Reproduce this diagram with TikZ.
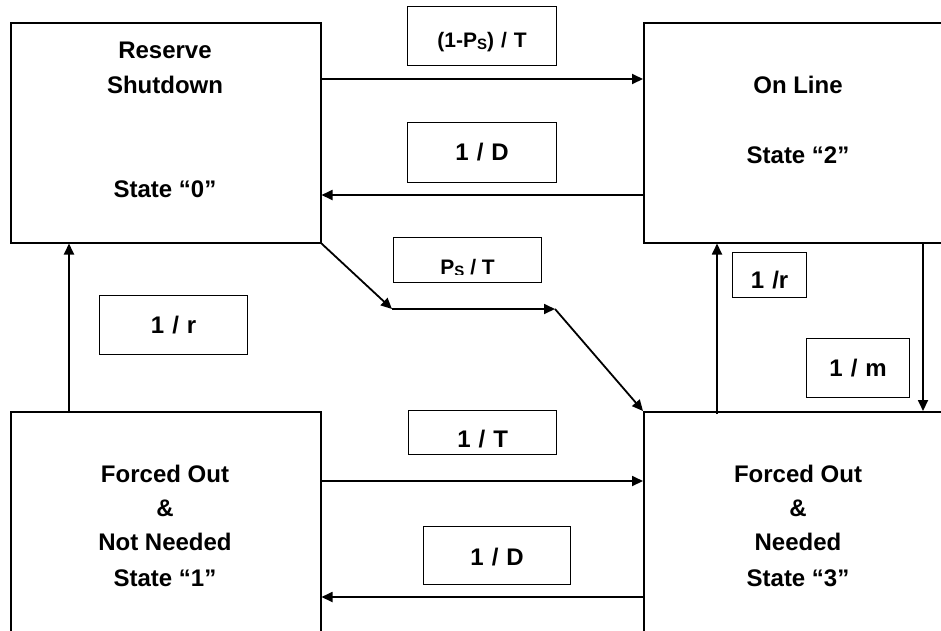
\documentclass[tikz,border=0pt]{standalone}
\usepackage{fontspec}
\setmainfont{Liberation Sans}
\usetikzlibrary{arrows.meta}
\newcommand\subS{\raisebox{-2pt}{\fontsize{15}{15}\selectfont S}}
\begin{document}
\begin{tikzpicture}[x=1pt,y=-1pt,
  statebox/.style={draw,line width=1.5pt,rectangle,minimum width=310pt,minimum height=220pt,inner sep=0pt,anchor=north west},
  stxt/.style={anchor=base,inner sep=0pt,font=\fontsize{24}{29}\selectfont\bfseries},
  lblbox/.style={draw,line width=1.3pt,rectangle,inner xsep=0pt,inner ysep=0pt,align=center,anchor=north west,font=\fontsize{24}{29}\selectfont\bfseries},
  smallfont/.style={font=\fontsize{21}{25}\selectfont\bfseries},
  conn/.style={line width=1.8pt,-{Triangle[length=11pt,width=10pt]}},
]
\useasboundingbox (0,0) rectangle (941,630);
\clip (0,0) rectangle (941,630);

% state boxes
\node[statebox] (b0) at (10,22) {};
\node[statebox] (b2) at (643,22) {};
\node[statebox] (b1) at (10,411) {};
\node[statebox] (b3) at (643,411) {};

% state texts
\node[stxt] (t0a) at (165,58) {Reserve};
\node[stxt] (t0b) at (165,93) {Shutdown};
\node[stxt] (t0c) at (165,197) {State “0”};
\node[stxt] (t2a) at (798,93) {On Line};
\node[stxt] (t2b) at (798,163) {State “2”};
\node[stxt] (t1a) at (165,482) {Forced Out};
\node[stxt] (t1b) at (165,516) {\&};
\node[stxt] (t1c) at (165,550) {Not Needed};
\node[stxt] (t1d) at (165,586) {State “1”};
\node[stxt] (t3a) at (798,482) {Forced Out};
\node[stxt] (t3b) at (798,516) {\&};
\node[stxt] (t3c) at (798,550) {Needed};
\node[stxt] (t3d) at (798,586) {State “3”};

% connectors
\coordinate (k1) at (392,309);
\coordinate (k2) at (555,309);
\draw[conn] ([yshift=-57pt]b0.north east) -- ([yshift=-57pt]b2.north west);
\draw[conn] ([yshift=-173pt]b2.north west) -- ([yshift=-173pt]b0.north east);
\draw[conn] ([xshift=59pt,yshift=-2pt]b1.north west) -- ([xshift=59pt]b0.south west);
\draw[conn] ([xshift=74pt,yshift=-3pt]b3.north west) -- ([xshift=74pt]b2.south west);
\draw[conn] ([xshift=280pt]b2.south west) -- ([xshift=280pt]b3.north west);
\draw[conn] ([yshift=-70pt]b1.north east) -- ([yshift=-70pt]b3.north west);
\draw[conn] ([yshift=-186pt]b3.north west) -- ([yshift=-186pt]b1.north east);
\draw[conn] (b0.south east) -- (k1);
\draw[conn] (k1) -- (k2);
\draw[conn] (k2) -- (b3.north west);

% labels
\node[lblbox,smallfont,text width=149pt,text height=41pt,text depth=18pt] (lA) at (407,6) {(1-P\subS) / T};
\node[lblbox,text width=149pt,text height=38pt,text depth=22pt] (lB) at (407,122) {1 / D};
\node[lblbox,text width=148pt,text height=36pt,text depth=9pt] (lC) at (393,237) {};
\begin{scope}
  \clip (lC.north west) rectangle ([yshift=9pt]lC.south east);
  \node[anchor=base,inner sep=0pt,smallfont] (lCt) at ([yshift=9pt]lC.south) {P\subS{} / T};
\end{scope}
\node[lblbox,text width=148pt,text height=38pt,text depth=21pt] (lD) at (99,295) {1 / r};
\node[lblbox,text width=74pt,text height=36pt,text depth=9pt] (lE) at (732,252) {1 /r};
\node[lblbox,text width=103pt,text height=38pt,text depth=21pt] (lF) at (806,338) {1 / m};
\node[lblbox,text width=148pt,text height=37pt,text depth=7pt] (lG) at (408,410) {1 / T};
\node[lblbox,text width=147pt,text height=39pt,text depth=19pt] (lH) at (423,526) {1 / D};
\end{tikzpicture}
\end{document}
